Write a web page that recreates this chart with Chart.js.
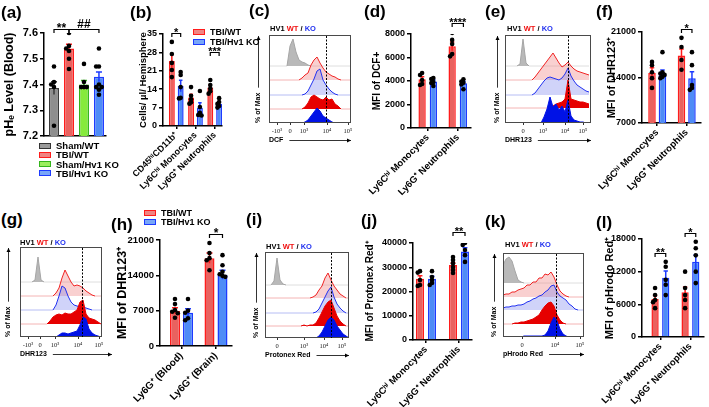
<!DOCTYPE html>
<html>
<head>
<meta charset="utf-8">
<script src="https://cdn.jsdelivr.net/npm/chart.js@4.4.1/dist/chart.umd.min.js"></script>
<style>
  body { margin: 0; width: 709px; height: 407px; position: relative; overflow: hidden; background: #fff;
         font-family: 'Liberation Sans', Arial, sans-serif; font-weight: bold; color: #000; }
  .box { position: absolute; }
  .tag { position: absolute; font-size: 17px; line-height: 17px; }
  .hv { position: absolute; font-size: 7.5px; line-height: 8px; white-space: nowrap; }
  .leg { position: absolute; display: flex; align-items: center; height: 9px; font-size: 9.5px; white-space: nowrap; }
  .leg i { display: inline-block; width: 10px; height: 4px; border: 1.5px solid; margin-right: 5px; }
</style>
</head>
<body>
<script>
const FONT = "'Liberation Sans', Arial, sans-serif";
const SERIF = "'Liberation Serif', 'Times New Roman', serif";
const RED = '#ff1c1c', RED_FILL = '#e9625f';
const BLUE = '#1d3bff', BLUE_FILL = '#4f8cf6';

// (a) blood pHe
const aGroups = ['Sham/WT', 'TBI/WT', 'Sham/Hv1 KO', 'TBI/Hv1 KO'];
const aMean = [7.386, 7.54, 7.40, 7.43];
const aSem = [0.025, 0.016, 0.016, 0.019];
const aPts = [
  [7.47, 7.41, 7.40, 7.39, 7.24],
  [7.60, 7.55, 7.54, 7.53, 7.50, 7.46],
  [7.48, 7.41, 7.39, 7.39, 7.39],
  [7.54, 7.47, 7.47, 7.40, 7.39, 7.39, 7.38, 7.36]
];
const aSig = [['**', 0, 1, 7.615], ['##', 1, 3, 7.615]];

// (b) cell counts
const bCats = ['CD45ʰⁱCD11b⁺', 'Ly6Cʰⁱ Monocytes', 'Ly6G⁺ Neutrophils'];
const bWtMean = [24.7, 10.8, 14.6];
const bWtSem = [2.5, 1.3, 1.0];
const bKoMean = [15.2, 6.9, 8.5];
const bKoSem = [2.2, 1.9, 0.7];
const bWtPts = [[32.0, 27.4, 24.0, 21.3, 18.6], [14.8, 11.5, 10.2, 9.0, 8.5], [17.5, 15.6, 14.3, 13.2, 12.3]];
const bKoPts = [[20.5, 19.4, 14.8, 10.7, 10.5], [13.3, 7.2, 5.0, 4.2, 4.0], [10.6, 9.1, 8.4, 7.6, 7.0]];
const bSig = [['*', 0, 1, 35.4], ['***', 4, 5, 28.2]];

// shared categories for d, f, j, l
const cellCats = ['Ly6Cʰⁱ Monocytes', 'Ly6G⁺ Neutrophils'];

// (d) DCF
const dWtMean = [4140, 6950];
const dWtSem = [230, 370];
const dKoMean = [3950, 3800];
const dKoSem = [130, 150];
const dWtPts = [[4680, 4510, 4090, 3750, 3660], [8100, 7500, 7150, 6300, 6100]];
const dKoPts = [[4250, 4170, 3920, 3830, 3580], [4150, 3950, 3850, 3700, 3300]];
const dSig = [['****', 2, 3, 8930]];

// (f) DHR123
const fWtMean = [14700, 17400];
const fWtSem = [800, 1000];
const fKoMean = [14500, 13900];
const fKoSem = [650, 1000];
const fWtPts = [[16400, 15900, 14800, 13900, 12400], [20100, 18700, 16700, 15200]];
const fKoPts = [[17900, 14800, 14600, 14400, 14100, 13900], [17900, 15900, 12850, 12400, 12100]];
const fSig = [['*', 2, 3, 21460]];

// (h) DHR123 blood vs brain
const hCats = ['Ly6G⁺ (Blood)', 'Ly6G⁺ (Brain)'];
const hWtMean = [7000, 17400];
const hWtSem = [600, 1000];
const hKoMean = [6600, 14100];
const hKoSem = [800, 900];
const hWtPts = [[9300, 8300, 7100, 6800, 6500, 5600], [20400, 18400, 17400, 17000, 15000]];
const hKoPts = [[9300, 7000, 6600, 5500, 5100], [18000, 16000, 14700, 14200, 13900, 13700]];
const hSig = [['*', 2, 3, 22190]];

// (j) Protonex Red
const jWtMean = [25300, 30900];
const jWtSem = [1200, 1000];
const jKoMean = [25300, 36500];
const jKoSem = [1000, 1500];
const jWtPts = [[28400, 27800, 24700, 22700, 22300], [34200, 33000, 31700, 30100, 28900, 27600]];
const jKoPts = [[28400, 26000, 24700, 23500, 22700], [40000, 39200, 37100, 35000, 32200]];
const jSig = [['**', 2, 3, 44540]];

// (l) pHrodo Red
const lWtMean = [7000, 8200];
const lWtSem = [600, 1000];
const lKoMean = [10900, 13800];
const lKoSem = [1200, 1300];
const lWtPts = [[9000, 7700, 6800, 6400, 5300], [12000, 9000, 7700, 6800, 5300]];
const lKoPts = [[13800, 12900, 10500, 9600, 7700], [17500, 16300, 15000, 12000, 9900]];
const lSig = [['**', 0, 1, 15430], ['*', 2, 3, 19100]];

// flow histograms: channel grid shared by c, e, g, i, k
const chan = [0, 3, 6, 9, 12, 15, 18, 21, 24, 27, 30, 33, 36, 39, 42, 45, 48, 51, 54, 57, 60, 63, 66, 69, 72, 75, 78, 81, 84];
// rows top to bottom: unstained, WT open, KO open, WT solid, KO solid

// (c) DCF
const cGray = [0,0,0,0,0,0,0,20,27,14,6,4,3,1,0,0,0,0,0,0,0,0,0,0,0,0,0,0,0];
const cRedOpen = [0,0,0,0,0,0,0,0,0,0,0,2,5,7,15,20,23,17,12,8,6,4,3,1,0,0,0,0,0];
const cBlueOpen = [0,0,0,0,0,0,0,0,0,0,0,0,1,4,10,16,24,26,15,10,6,3,1,0,0,0,0,0,0];
const cRedFill = [0,0,0,0,0,0,0,0,0,0,0,0,2,6,12,14,12,10,9,12,9,10,5,3,0,0,0,0,0];
const cBlueFill = [0,0,0,0,0,0,0,0,0,0,0,0,1,3,7,11,15,12,7,5,3,1,0,0,0,0,0,0,0];
const cTicks = [8, 21, 35, 58, 79];
const cTickText = ['-10³', '0', '10³', '10⁴', '10⁵'];

// (e) DHR123 brain
const eGray = [0,0,0,0,0,2,27,3,0,0,0,0,0,0,0,0,0,0,0,0,0,0,0,0,0,0,0,0,0];
const eRedOpen = [0,0,0,0,0,0,0,0,0,0,3,7,11,15,19,23,27,22,17,13,15,18,14,11,9,8,7,6,5];
const eBlueOpen = [0,0,0,0,0,0,0,0,0,0,2,6,10,14,17,18,17,16,15,17,21,27,19,14,10,8,6,4,3];
const eRedFill = [0,0,0,0,0,0,0,0,0,0,0,0,0,0,0,0,2,4,5,6,9,28,9,8,7,6,6,5,4];
const eBlueFill = [0,0,0,0,0,0,0,0,0,0,0,0,0,6,14,26,16,19,13,17,11,23,7,3,2,1,1,0,0];
const eTicks = [18, 38, 60, 78];
const eTickText = ['0', '10³', '10⁴', '10⁵'];

// (g) DHR123 blood
const gGray = [0,0,0,0,0,2,25,2,0,0,0,0,0,0,0,0,0,0,0,0,0,0,0,0,0,0,0,0,0];
const gRedOpen = [0,0,0,0,0,0,0,0,0,0,0,0,3,8,18,26,20,14,10,11,10,8,5,3,1,0,0,0,0];
const gBlueOpen = [0,0,0,0,0,0,0,0,0,0,0,0,5,14,24,22,14,8,5,4,3,3,2,1,0,0,0,0,0];
const gRedFill = [0,0,0,0,0,0,0,0,0,0,3,7,9,10,9,11,10,10,12,14,22,24,10,6,5,4,2,0,0];
const gBlueFill = [0,0,0,0,0,0,0,0,0,0,0,0,0,2,4,4,3,4,5,6,12,20,18,8,4,2,1,0,0];
const gTicks = [8, 20, 35, 58, 79];
const gTickText = ['-10³', '0', '10³', '10⁴', '10⁵'];

// (i) Protonex Red
const iGray = [0,0,0,4,27,5,1,0,0,0,0,0,0,0,0,0,0,0,0,0,0,0,0,0,0,0,0,0,0];
const iRedOpen = [0,0,0,0,0,0,0,0,0,0,0,0,0,0,0,0,1,3,8,12,20,25,18,12,8,4,2,0,0];
const iBlueOpen = [0,0,0,0,0,0,0,0,0,0,0,0,0,0,0,0,0,1,4,10,16,22,26,16,9,5,2,0,0];
const iRedFill = [0,0,0,0,0,0,0,0,0,0,0,0,0,1,0,1,1,3,8,14,20,24,26,18,10,5,2,0,0];
const iBlueFill = [0,0,0,0,0,0,0,0,0,0,0,0,0,0,0,0,0,0,2,6,12,18,21,18,12,8,4,2,0];
const iTicks = [12, 39, 59, 77];
const iTickText = ['0', '10³', '10⁴', '10⁵'];

// (k) pHrodo Red
const kGray = [18,24,26,22,12,3,1,0,0,0,0,0,0,0,0,0,0,0,0,0,0,0,0,0,0,0,0,0,0];
const kRedOpen = [2,3,3,5,5,7,8,9,12,12,15,15,19,19,23,22,25,20,12,6,3,1,0,0,0,0,0,0,0];
const kBlueOpen = [2,3,3,4,4,5,5,6,8,9,11,12,14,15,18,20,24,25,18,14,12,10,6,4,1,0,0,0,0];
const kRedFill = [0,0,0,0,1,1,2,2,3,4,5,7,9,14,18,21,22,18,9,4,1,0,0,0,0,0,0,0,0];
const kBlueFill = [0,0,0,0,0,0,0,1,1,1,1,1,1,1,2,6,14,20,16,8,3,1,0,0,0,0,0,0,0];
const kTicks = [19, 52, 77];
const kTickText = ['0', '10⁴', '10⁵'];

Chart.defaults.font.family = FONT;
Chart.defaults.font.weight = 'bold';
Chart.defaults.color = '#000';

function makeBox(area, m) {
  const div = document.createElement('div');
  div.className = 'box';
  div.style.left = (area[0] - m[0]) + 'px';
  div.style.top = (area[1] - m[1]) + 'px';
  div.style.width = (area[2] - area[0] + m[0] + m[2]) + 'px';
  div.style.height = (area[3] - area[1] + m[1] + m[3]) + 'px';
  const cv = document.createElement('canvas');
  div.appendChild(cv);
  document.body.appendChild(div);
  return cv;
}

// spread overlapping dots sideways, like prism does
function spread(vals, thr) {
  const order = vals.map((v, i) => i).sort((a, b) => vals[b] - vals[a]);
  const off = vals.map(() => 0);
  const placed = [];
  const seq = [0, -1, 1, -2, 2];
  order.forEach(i => {
    const near = placed.filter(j => Math.abs(vals[j] - vals[i]) < thr).map(j => off[j]);
    const s = seq.find(q => !near.includes(q));
    off[i] = s === undefined ? 0 : s;
    placed.push(i);
  });
  return off;
}

const errorBars = {
  id: 'errorBars',
  afterDatasetDraw(chart, args) {
    const ds = chart.data.datasets[args.index];
    if (!ds.sem) return;
    const {ctx} = chart, y = chart.scales.y;
    args.meta.data.forEach((bar, i) => {
      const mean = ds.data[i].y, e = ds.sem[i];
      const top = y.getPixelForValue(mean + e), bot = y.getPixelForValue(mean - e);
      const c = Array.isArray(ds.borderColor) ? ds.borderColor[i] : ds.borderColor;
      const w = bar.width * 0.6;
      ctx.save();
      ctx.strokeStyle = c;
      ctx.lineWidth = 1.5;
      ctx.beginPath();
      ctx.moveTo(bar.x, bot); ctx.lineTo(bar.x, top);
      ctx.moveTo(bar.x - w / 2, top); ctx.lineTo(bar.x + w / 2, top);
      ctx.stroke();
      ctx.restore();
    });
  }
};

function brackets(marks, size) {
  return {
    id: 'brackets',
    afterDraw(chart) {
      const {ctx} = chart, y = chart.scales.y;
      const metas = chart.getSortedVisibleDatasetMetas().filter(m => m.type === 'bar').sort((a, b) => a.index - b.index);
      const n = metas.length;
      const barAt = k => metas[k % n].data[Math.floor(k / n)];
      ctx.save();
      ctx.strokeStyle = '#000';
      ctx.fillStyle = '#000';
      ctx.lineWidth = 1.2;
      ctx.font = `bold ${size}px ${FONT}`;
      ctx.textAlign = 'center';
      marks.forEach(([text, a, b, v]) => {
        const x1 = barAt(a).x, x2 = barAt(b).x;
        const yy = Math.round(y.getPixelForValue(v)) + 0.5;
        ctx.beginPath();
        ctx.moveTo(x1, yy + 3.5); ctx.lineTo(x1, yy); ctx.lineTo(x2, yy); ctx.lineTo(x2, yy + 3.5);
        ctx.stroke();
        ctx.fillText(text, (x1 + x2) / 2, text[0] === '#' ? yy - 2 : yy + size * 0.1 + 1);
      });
      ctx.restore();
    }
  };
}

function barPanel(p) {
  const cv = makeBox(p.area, p.m);
  const n = p.series.length;
  const barW = p.catPct / n * p.barPct;
  const datasets = [];
  p.series.forEach(s => {
    datasets.push({
      type: 'bar',
      data: s.mean.map((v, i) => ({x: i, y: v})),
      sem: s.sem,
      backgroundColor: s.fill,
      borderColor: s.line,
      borderWidth: 1.5,
      categoryPercentage: p.catPct,
      barPercentage: p.barPct,
      order: 2
    });
  });
  p.series.forEach((s, d) => {
    const shift = (d - (n - 1) / 2) * p.catPct / n;
    const dots = [];
    s.pts.forEach((vals, i) => {
      const off = spread(vals, (p.yMax - p.yMin) * 0.03);
      vals.forEach((v, k) => dots.push({x: i + shift + off[k] * barW * 0.28, y: v}));
    });
    datasets.push({
      type: 'scatter', data: dots, pointRadius: 2.3,
      pointBackgroundColor: '#000', pointBorderWidth: 0, order: 0
    });
  });

  new Chart(cv, {
    type: 'bar',
    data: {datasets},
    options: {
      animation: false,
      responsive: true,
      maintainAspectRatio: false,
      events: [],
      layout: {padding: {left: 0, top: p.m[1], right: p.m[2], bottom: 0}},
      plugins: {legend: {display: false}, tooltip: {enabled: false}},
      scales: {
        x: {
          type: 'linear', min: p.xMin, max: p.xMax, offset: false,
          afterBuildTicks: s => { s.ticks = p.cats.map((c, i) => ({value: i})); },
          afterFit: s => { s.height = p.m[3]; s.paddingLeft = 0; s.paddingRight = 0; },
          ticks: {
            display: p.showX, autoSkip: false, minRotation: 45, maxRotation: 45, padding: 1,
            font: {size: p.labelSize || 9.5, weight: 'bold'}, color: '#000',
            callback: (v, i) => p.cats[i]
          },
          grid: {display: p.showX, drawOnChartArea: false, offset: false, tickLength: 3, color: '#000', lineWidth: 1.5},
          border: {color: '#000', width: 1.5}
        },
        y: {
          min: p.yMin, max: p.yMax,
          afterFit: s => { s.width = p.m[0]; s.paddingTop = 0; s.paddingBottom = 0; },
          ticks: {
            stepSize: p.step, padding: 2, font: {size: p.tickSize, weight: 'bold'}, color: '#000',
            callback: v => v.toFixed(p.dec || 0)
          },
          grid: {drawOnChartArea: false, tickLength: 4, color: '#000', lineWidth: 1.5},
          border: {color: '#000', width: 1.5},
          title: {
            display: true, text: p.title, color: '#000',
            font: {size: p.titleSize, weight: 'bold'}, padding: {top: p.titlePad, bottom: 0}
          }
        }
      }
    },
    plugins: [errorBars, brackets(p.sig, p.sigSize || 11)]
  });
}

function arrow(ctx, x1, y1, x2, y2) {
  const ang = Math.atan2(y2 - y1, x2 - x1);
  const c = Math.cos(ang), s = Math.sin(ang);
  ctx.beginPath(); ctx.moveTo(x1, y1); ctx.lineTo(x2, y2); ctx.stroke();
  ctx.beginPath();
  ctx.moveTo(x2, y2);
  ctx.lineTo(x2 - 4 * c + 2 * s, y2 - 4 * s - 2 * c);
  ctx.lineTo(x2 - 4 * c - 2 * s, y2 - 4 * s + 2 * c);
  ctx.closePath();
  ctx.fill();
}

function flowDeco(p) {
  return {
    id: 'flowDeco',
    afterDraw(chart) {
      const {ctx, chartArea: a, scales: {x, y}} = chart;
      ctx.save();
      ctx.strokeStyle = '#4a4a4a';
      ctx.lineWidth = 1;
      ctx.strokeRect(a.left + 0.5, a.top + 0.5, a.right - a.left - 1, a.bottom - a.top - 1);
      const dx = Math.round(x.getPixelForValue(p.dash)) + 0.5;
      ctx.strokeStyle = '#000';
      ctx.setLineDash([2, 1.5]);
      ctx.beginPath(); ctx.moveTo(dx, a.top + 1); ctx.lineTo(dx, a.bottom); ctx.stroke();
      ctx.setLineDash([]);
      ctx.fillStyle = '#000';
      ctx.lineWidth = 0.8;
      ctx.font = `bold 7px ${FONT}`;
      const ax = Math.round(y.left + 1 + 4.2) + 0.5;
      arrow(ctx, ax, a.bottom - ctx.measureText('% of Max').width - 5, ax, a.top + 1);
      const ay = Math.round(x.bottom - 1 - 4.2) + 0.5;
      arrow(ctx, a.left + ctx.measureText(p.xTitle).width + 6, ay, a.right + (p.ext || 0), ay);
      ctx.restore();
    }
  };
}

const HIST_STYLE = [
  {fill: '#b9b9b9', line: '#a5a5a5', base: '#dedede'},
  {fill: 'rgba(238,120,120,0.35)', line: '#f02424', base: '#f4b4b4'},
  {fill: 'rgba(120,130,238,0.35)', line: '#2232f0', base: '#b6bdf4'},
  {fill: '#e60000', line: '#e60000', base: '#f4b4b4'},
  {fill: '#0012e6', line: '#0012e6', base: 'rgba(0,0,0,0)'}
];

function histPanel(p) {
  const cv = makeBox(p.area, p.m);
  const datasets = p.rows.map((row, k) => {
    const st = HIST_STYLE[k], base = p.base[k];
    return {
      type: 'line',
      data: row.map((v, i) => ({x: chan[i], y: base + v})),
      fill: {value: base},
      backgroundColor: st.fill,
      borderColor: st.line,
      borderWidth: 1,
      pointRadius: 0,
      tension: 0,
      order: 4 - k,
      segment: {borderColor: c => (c.p0.parsed.y === base && c.p1.parsed.y === base) ? st.base : undefined}
    };
  });

  new Chart(cv, {
    type: 'line',
    data: {datasets},
    options: {
      animation: false,
      responsive: true,
      maintainAspectRatio: false,
      events: [],
      layout: {padding: {left: 0, top: p.m[1], right: p.m[2], bottom: 0}},
      plugins: {legend: {display: false}, tooltip: {enabled: false}},
      scales: {
        x: {
          type: 'linear', min: 0, max: p.xMax,
          afterBuildTicks: s => { s.ticks = p.ticks.map(v => ({value: v})); },
          afterFit: s => { s.height = p.m[3]; s.paddingLeft = 0; s.paddingRight = 0; },
          ticks: {
            autoSkip: false, maxRotation: 0, padding: 2, color: '#222',
            font: {family: SERIF, size: 6.5, weight: 'normal'},
            callback: (v, i) => p.tickText[i]
          },
          grid: {drawOnChartArea: false, tickLength: 2, color: '#333'},
          border: {display: false},
          title: {
            display: true, text: p.xTitle, align: 'start', color: '#000',
            font: {size: 7, weight: 'bold'}, padding: {top: 0, bottom: 1}
          }
        },
        y: {
          min: 0, max: p.yMax,
          afterFit: s => { s.width = p.m[0]; s.paddingTop = 0; s.paddingBottom = 0; },
          ticks: {display: false},
          grid: {display: false},
          border: {display: false},
          title: {
            display: true, text: '% of Max', align: 'start', color: '#000',
            font: {size: 7, weight: 'bold'}, padding: {top: 1, bottom: 0}
          }
        }
      }
    },
    plugins: [flowDeco(p)]
  });
}

const wt = (mean, sem, pts) => ({mean, sem, pts, fill: RED_FILL, line: RED});
const ko = (mean, sem, pts) => ({mean, sem, pts, fill: BLUE_FILL, line: BLUE});

histPanel({area: [269, 35, 351, 123], m: [16, 2, 3, 22], xMax: 82, yMax: 88, base: [57, 43, 28, 14, 0],
  rows: [cGray, cRedOpen, cBlueOpen, cRedFill, cBlueFill], ticks: cTicks, tickText: cTickText, dash: 57, xTitle: 'DCF'});
histPanel({area: [505, 35, 591, 123], m: [13, 2, 3, 22], xMax: 86, yMax: 88, base: [57, 43, 28, 15, 0],
  rows: [eGray, eRedOpen, eBlueOpen, eRedFill, eBlueFill], ticks: eTicks, tickText: eTickText, dash: 63, xTitle: 'DHR123'});
histPanel({area: [20, 247, 102, 337], m: [17, 2, 12, 22], xMax: 82, yMax: 90, base: [55, 41, 27, 13, 0],
  rows: [gGray, gRedOpen, gBlueOpen, gRedFill, gBlueFill], ticks: gTicks, tickText: gTickText, dash: 62, xTitle: 'DHR123', ext: 10});
histPanel({area: [265, 252, 349, 338], m: [14, 2, 3, 22], xMax: 84, yMax: 86, base: [53, 40, 25, 12, 0],
  rows: [iGray, iRedOpen, iBlueOpen, iRedFill, iBlueFill], ticks: iTicks, tickText: iTickText, dash: 66, xTitle: 'Protonex Red'});
histPanel({area: [503, 253, 584, 337], m: [14, 2, 3, 22], xMax: 81, yMax: 84, base: [54, 40, 27, 13, 0],
  rows: [kGray, kRedOpen, kBlueOpen, kRedFill, kBlueFill], ticks: kTicks, tickText: kTickText, dash: 53, xTitle: 'pHrodo Red'});

barPanel({
  area: [44, 33, 106, 136], m: [44, 26, 4, 6], xMin: -0.667, xMax: 3.47, catPct: 1, barPct: 0.67,
  yMin: 7.2, yMax: 7.6, step: 0.1, dec: 1, cats: aGroups, showX: false, tickSize: 11,
  title: 'pHₑ Level (Blood)', titleSize: 12.5, titlePad: 2.5, sig: aSig, sigSize: 12,
  series: [{mean: aMean, sem: aSem, pts: aPts,
            fill: ['#8e8e8e', RED_FILL, '#86ea3c', BLUE_FILL],
            line: ['#3a3a3a', RED, '#35b51c', BLUE]}]
});
barPanel({
  area: [163, 34, 223, 126], m: [40, 20, 3, 78], xMin: -0.69, xMax: 2.38, catPct: 0.92, barPct: 0.67,
  yMin: 0, yMax: 35, step: 7, cats: bCats, showX: true, tickSize: 9, labelSize: 9,
  title: 'Cells/ µl/ Hemisphere', titleSize: 9.5, titlePad: 14.3, sig: bSig,
  series: [wt(bWtMean, bWtSem, bWtPts), ko(bKoMean, bKoSem, bKoPts)]
});
barPanel({
  area: [411, 34, 472, 128], m: [52, 26, 3, 78], xMin: -0.557, xMax: 1.44, catPct: 0.75, barPct: 0.65,
  yMin: 0, yMax: 8000, step: 2000, cats: cellCats, showX: true, tickSize: 9,
  title: 'MFI of DCF+', titleSize: 10, titlePad: 12, sig: dSig,
  series: [wt(dWtMean, dWtSem, dWtPts), ko(dKoMean, dKoSem, dKoPts)]
});
barPanel({
  area: [642, 32, 704, 123], m: [54, 26, 1, 80], xMin: -0.516, xMax: 1.484, catPct: 0.71, barPct: 0.72,
  yMin: 7000, yMax: 21000, step: 7000, cats: cellCats, showX: true, tickSize: 9,
  title: 'MFI of DHR123⁺', titleSize: 11, titlePad: 17.4, sig: fSig,
  series: [wt(fWtMean, fWtSem, fWtPts), ko(fKoMean, fKoSem, fKoPts)]
});
barPanel({
  area: [160, 240, 232, 346], m: [50, 22, 4, 61], xMin: -0.623, xMax: 1.464, catPct: 0.754, barPct: 0.77,
  yMin: 0, yMax: 21000, step: 7000, cats: hCats, showX: true, tickSize: 9.5, labelSize: 10,
  title: 'MFI of DHR123⁺', titleSize: 12.5, titlePad: 5.5, sig: hSig, sigSize: 12,
  series: [wt(hWtMean, hWtSem, hWtPts), ko(hKoMean, hKoSem, hKoPts)]
});
barPanel({
  area: [413, 243, 472, 340], m: [60, 27, 4, 67], xMin: -0.394, xMax: 1.394, catPct: 0.727, barPct: 0.67,
  yMin: 0, yMax: 40000, step: 10000, cats: cellCats, showX: true, tickSize: 9,
  title: 'MFI of Protonex Red⁺', titleSize: 10, titlePad: 11, sig: jSig,
  series: [wt(jWtMean, jWtSem, jWtPts), ko(jKoMean, jKoSem, jKoPts)]
});
barPanel({
  area: [642, 239, 706, 337], m: [56, 22, 2, 70], xMin: -0.613, xMax: 1.452, catPct: 0.71, barPct: 0.68,
  yMin: 0, yMax: 18000, step: 6000, cats: cellCats, showX: true, tickSize: 9,
  title: 'MFI of pHrodo Red⁺', titleSize: 11, titlePad: 17.4, sig: lSig,
  series: [wt(lWtMean, lWtSem, lWtPts), ko(lKoMean, lKoSem, lKoPts)]
});
</script>

<div class="tag" style="left:1px;top:4px">(a)</div>
<div class="tag" style="left:130px;top:4px">(b)</div>
<div class="tag" style="left:249px;top:2px">(c)</div>
<div class="tag" style="left:364px;top:3px">(d)</div>
<div class="tag" style="left:485px;top:3px">(e)</div>
<div class="tag" style="left:596px;top:3px">(f)</div>
<div class="tag" style="left:1px;top:211px">(g)</div>
<div class="tag" style="left:111px;top:216px">(h)</div>
<div class="tag" style="left:246px;top:211px">(i)</div>
<div class="tag" style="left:361px;top:212px">(j)</div>
<div class="tag" style="left:485px;top:213px">(k)</div>
<div class="tag" style="left:596px;top:214px">(l)</div>

<div class="hv" style="left:270px;top:25px">HV1 <span style="color:#f01010">WT</span> / <span style="color:#2030f0">KO</span></div>
<div class="hv" style="left:507px;top:25px">HV1 <span style="color:#f01010">WT</span> / <span style="color:#2030f0">KO</span></div>
<div class="hv" style="left:20px;top:239px">HV1 <span style="color:#f01010">WT</span> / <span style="color:#2030f0">KO</span></div>
<div class="hv" style="left:266px;top:243px">HV1 <span style="color:#f01010">WT</span> / <span style="color:#2030f0">KO</span></div>
<div class="hv" style="left:505px;top:241px">HV1 <span style="color:#f01010">WT</span> / <span style="color:#2030f0">KO</span></div>

<div class="leg" style="left:39px;top:141px"><i style="background:#9a9a9a;border-color:#333"></i>Sham/WT</div>
<div class="leg" style="left:39px;top:150px"><i style="background:#ef8583;border-color:#ff1c1c"></i>TBI/WT</div>
<div class="leg" style="left:39px;top:159.5px"><i style="background:#9cef5f;border-color:#35b51c"></i>Sham/Hv1 KO</div>
<div class="leg" style="left:39px;top:168.5px"><i style="background:#79a6f8;border-color:#1d3bff"></i>TBI/Hv1 KO</div>

<div class="leg" style="left:193px;top:27.5px;font-size:9px"><i style="background:#ef8583;border-color:#ff1c1c"></i>TBI/WT</div>
<div class="leg" style="left:193px;top:37.5px;font-size:9px"><i style="background:#79a6f8;border-color:#1d3bff"></i>TBI/Hv1 KO</div>

<div class="leg" style="left:144px;top:208.5px;font-size:9px"><i style="background:#ef8583;border-color:#ff1c1c"></i>TBI/WT</div>
<div class="leg" style="left:144px;top:217.5px;font-size:9px"><i style="background:#79a6f8;border-color:#1d3bff"></i>TBI/Hv1 KO</div>
</body>
</html>
